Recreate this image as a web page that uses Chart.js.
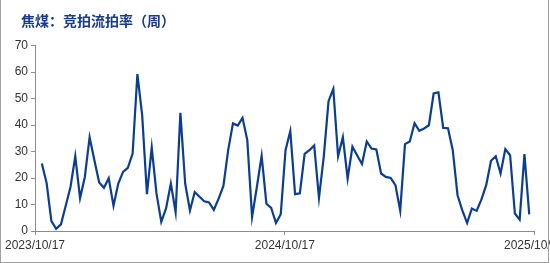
<!DOCTYPE html>
<html>
<head>
<meta charset="utf-8">
<script src="https://cdn.jsdelivr.net/npm/chart.js@4"></script>
<style>
  html, body { margin: 0; padding: 0; background: #fff; }
  #wrap { position: relative; width: 550px; height: 263px; overflow: hidden; }
  #frame {
    position: absolute; left: 0; top: 0; width: 549px; height: 263px;
    box-sizing: border-box; border: 1px solid #a0a0a0; border-top: none;
    pointer-events: none;
  }
</style>
</head>
<body>
<div id="wrap">
  <canvas id="chart" width="550" height="263"></canvas>
  <div id="frame"></div>
</div>
<script>
const TITLE = "焦煤：竞拍流拍率（周）";
const tickLabels = ["2023/10/17", "2024/10/17", "2025/10/17"];
const firstWeek = "2023/10/27";
const yTicks = [0, 10, 20, 30, 40, 50, 60, 70];

// weekly rate, %
const rates = [
  25.5, 18.1, 3.7, 0.8, 2.5, 9.5, 16.6, 28.2, 12.4, 20.4,
  35.4, 26.7, 18.3, 16.3, 19.9, 9.5, 17.9, 22.3, 23.8, 29.2,
  59.2, 43.7, 13.9, 31.5, 14.1, 3.4, 8.5, 17.9, 7.1, 44.6,
  17.9, 7.7, 14.7, 12.9, 11.2, 10.8, 8.0, 12.2, 17.0, 30.5,
  40.6, 39.8, 42.7, 34.3, 5.3, 16.6, 28.4, 10.3, 8.7, 3.0,
  6.3, 30.5, 37.7, 13.9, 14.2, 29.1, 30.5, 32.3, 12.5, 28.0,
  49.0, 53.6, 28.2, 35.4, 19.8, 31.8, 28.5, 25.3, 33.8, 31.1,
  30.8, 21.7, 20.4, 20.0, 17.3, 7.7, 32.8, 33.8, 40.7, 37.8,
  38.7, 39.9, 51.9, 52.3, 38.9, 38.8, 30.5, 13.5, 7.8, 3.0,
  8.5, 7.6, 11.9, 17.3, 26.5, 28.2, 21.7, 30.9, 28.6, 6.6,
  4.3, 29.0, 6.3
];

function toDay(s) {
  const [y, m, d] = s.split("/").map(Number);
  return Date.UTC(y, m - 1, d) / 86400000;
}

const origin = toDay(tickLabels[0]);
const tickDays = tickLabels.map((s) => toDay(s) - origin);
const firstDay = toDay(firstWeek) - origin;
const points = rates.map((v, i) => ({ x: firstDay + 7 * i, y: v }));

const AXIS = "#8c8c8c";
const TEXT = "#333333";
const NAVY = "#0b3d91";

const titlePlugin = {
  id: "titleText",
  afterDraw(chart) {
    const ctx = chart.ctx;
    ctx.save();
    ctx.font = 'bold 14px "Noto Sans CJK SC"';
    ctx.fillStyle = "#1a3c87";
    ctx.textBaseline = "middle";
    ctx.fillText(TITLE, 21, 21);
    ctx.restore();
  },
};

new Chart(document.getElementById("chart"), {
  type: "line",
  data: {
    datasets: [{
      data: points,
      borderColor: NAVY,
      borderWidth: 2.2,
      pointRadius: 0,
      tension: 0,
      fill: false,
    }],
  },
  options: {
    responsive: false,
    animation: false,
    layout: { padding: { top: 45.5, right: 16, left: 0, bottom: 0 } },
    plugins: {
      legend: { display: false },
      tooltip: { enabled: false },
    },
    scales: {
      x: {
        type: "linear",
        min: 0,
        max: tickDays[tickDays.length - 1],
        afterBuildTicks: (s) => { s.ticks = tickDays.map((v) => ({ value: v })); },
        afterFit: (s) => { s.height = 32; s.paddingLeft = 0; s.paddingRight = 0; },
        ticks: {
          autoSkip: false,
          maxRotation: 0,
          padding: 3,
          color: TEXT,
          font: { family: "Liberation Sans", size: 12 },
          callback: (v) => tickLabels[tickDays.indexOf(v)],
        },
        grid: { drawOnChartArea: false, tickLength: 4, color: AXIS },
        border: { color: AXIS, width: 1 },
      },
      y: {
        min: 0,
        max: 70,
        afterBuildTicks: (s) => { s.ticks = yTicks.map((v) => ({ value: v })); },
        afterFit: (s) => { s.width = 35; s.paddingTop = 0; s.paddingBottom = 0; },
        ticks: {
          padding: 3,
          color: TEXT,
          font: { family: "Liberation Sans", size: 12 },
        },
        grid: { drawOnChartArea: false, tickLength: 4, color: AXIS },
        border: { color: AXIS, width: 1 },
      },
    },
  },
  plugins: [titlePlugin],
});
</script>
</body>
</html>
